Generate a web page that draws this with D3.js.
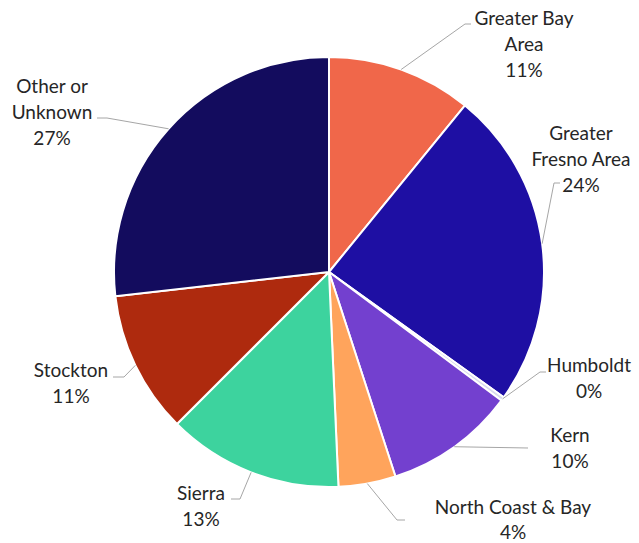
<!DOCTYPE html>
<html>
<head>
<meta charset="utf-8">
<script src="https://cdn.jsdelivr.net/npm/d3@7"></script>
<style>
  html, body { margin: 0; padding: 0; background: #ffffff; }
  svg text { font-family: Lato, "Open Sans", sans-serif; fill: #262626; }
</style>
</head>
<body>
<svg id="chart" width="639" height="543"></svg>
<script>
// Regions, clockwise from 12 o'clock
const regions = ["Greater Bay Area", "Greater Fresno Area", "Humboldt", "Kern",
                 "North Coast & Bay", "Sierra", "Stockton", "Other or Unknown"];
// Share of total, in percent
const shares = [10.9, 24.0, 0.3, 9.8, 4.3, 13.2, 10.7, 26.8];
// Label lines as shown beside each slice
const labelLines = [["Greater Bay", "Area"], ["Greater", "Fresno Area"], ["Humboldt"], ["Kern"],
                    ["North Coast & Bay"], ["Sierra"], ["Stockton"], ["Other or", "Unknown"]];
const colors = ["#F0674A", "#1E0FA3", "#D8DAEE", "#7340CF", "#FFA45C", "#3DD39E", "#AE2A0E", "#130C5E"];

// Label placement: text centre x, first baseline y, line spacing, leader elbow and end point
const labelLayout = [
  { tx: 524, ty: 25,  lh: 26, elbow: [465, 24],  end: [471, 24] },
  { tx: 581, ty: 140, lh: 26, elbow: [554, 183], end: [560, 183] },
  { tx: 589, ty: 372, lh: 26, elbow: [540, 372], end: [546, 372] },
  { tx: 570, ty: 442, lh: 26, elbow: [528, 448], end: [528, 448] },
  { tx: 513, ty: 514, lh: 25, elbow: [397, 520], end: [405, 520] },
  { tx: 201, ty: 500, lh: 26, elbow: [240, 499], end: [231, 499] },
  { tx: 71,  ty: 377, lh: 26, elbow: [124, 377], end: [113, 377] },
  { tx: 52,  ty: 93,  lh: 26, elbow: [107, 118], end: [97, 118] }
];

const cx = 329, cy = 272, radius = 215;

const data = regions.map((name, i) => ({ name, value: shares[i], color: colors[i], lines: labelLines[i], layout: labelLayout[i] }));

const svg = d3.select("#chart");
const g = svg.append("g").attr("transform", `translate(${cx},${cy})`);

const pie = d3.pie().value(d => d.value).sort(null);
const arc = d3.arc().innerRadius(0).outerRadius(radius);
const arcs = pie(data);

g.selectAll("path.slice")
  .data(arcs)
  .join("path")
  .attr("class", "slice")
  .attr("d", arc)
  .attr("fill", d => d.data.color)
  .attr("stroke", "#ffffff")
  .attr("stroke-width", 2)
  .attr("stroke-linejoin", "round");

// Leader lines from the slice edge at its mid angle
const edgePoint = d => {
  const a = (d.startAngle + d.endAngle) / 2;
  return [cx + radius * Math.sin(a), cy - radius * Math.cos(a)];
};

svg.selectAll("path.leader")
  .data(arcs)
  .join("path")
  .attr("class", "leader")
  .attr("fill", "none")
  .attr("stroke", "#a6a6a6")
  .attr("stroke-width", 1)
  .attr("d", d => d3.line()([edgePoint(d), d.data.layout.elbow, d.data.layout.end]));

const fmt = v => Math.round(v) + "%";

const labels = svg.selectAll("text.label")
  .data(arcs)
  .join("text")
  .attr("class", "label")
  .attr("text-anchor", "middle")
  .attr("font-size", 19)
  .attr("x", d => d.data.layout.tx)
  .attr("y", d => d.data.layout.ty);

labels.each(function(d) {
  const t = d3.select(this);
  const lines = d.data.lines.concat([fmt(d.data.value)]);
  lines.forEach((ln, i) => {
    t.append("tspan")
      .attr("x", d.data.layout.tx)
      .attr("dy", i === 0 ? 0 : d.data.layout.lh)
      .text(ln);
  });
});
</script>
</body>
</html>
